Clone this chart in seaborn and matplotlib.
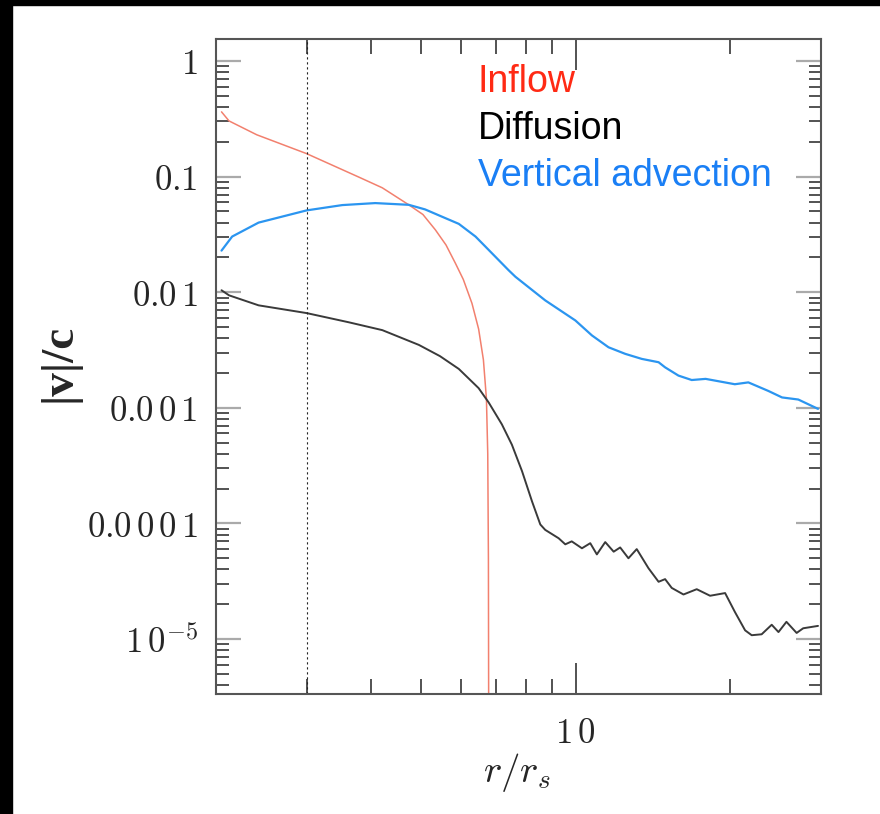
import numpy as np
import pandas as pd
import matplotlib
matplotlib.use("Agg")
import matplotlib.pyplot as plt
import seaborn as sns
from matplotlib.ticker import FixedLocator, FixedFormatter, LogLocator, NullFormatter
from matplotlib.patches import Rectangle

# ---------------- data ----------------
inflow_r = [2.05, 2.12, 2.4, 3.0, 3.79, 4.21, 4.74, 5.05, 5.34, 5.6, 5.84, 6.05, 6.29,
            6.48, 6.62, 6.71, 6.75, 6.77, 6.78]
inflow_v = [0.363, 0.303, 0.23, 0.158, 0.099, 0.080, 0.057, 0.047, 0.0346, 0.0256,
            0.0178, 0.0129, 0.0080, 0.0048, 0.0026, 0.0012, 4e-4, 5e-5, 1e-6]

adv_r = [2.05, 2.15, 2.42, 3.0, 3.52, 4.08, 4.74, 5.1, 5.50, 5.93, 6.39, 6.68, 7.41,
         7.64, 8.73, 9.99, 10.76, 11.59, 12.49, 13.45, 14.5, 14.93, 15.85, 16.82,
         17.9, 18.67, 20.4, 21.67, 23.7, 25.2, 27.1, 29.6]
adv_v = [0.0229, 0.0303, 0.040, 0.051, 0.0567, 0.059, 0.057, 0.052, 0.045, 0.039,
         0.0303, 0.0248, 0.0155, 0.0136, 0.0085, 0.0057, 0.00423, 0.00334, 0.00293,
         0.00265, 0.00248, 0.00224, 0.0019, 0.00174, 0.00178, 0.00172, 0.0016,
         0.00166, 0.0014, 0.00123, 0.00118, 0.00098]

diff_r = [2.05, 2.12, 2.42, 3.0, 3.62, 4.21, 4.96, 5.45, 5.93, 6.48, 6.78, 7.19, 7.52,
          7.87, 8.23, 8.54, 8.73, 9.27, 9.55, 9.83, 10.29, 10.68, 11.0, 11.42, 11.86,
          12.21, 12.67, 13.15, 13.86, 14.5, 14.93, 15.38, 16.21, 17.2, 18.26, 19.53,
          20.4, 21.36, 22.0, 23.0, 24.06, 24.8, 25.7, 26.9, 27.7, 29.6]
diff_v = [0.0104, 0.0094, 0.0077, 0.0066, 0.0055, 0.0047, 0.0035, 0.0028, 0.00217,
          0.00148, 0.00111, 0.00072, 0.00048, 0.000283, 0.000155, 9.8e-5, 8.8e-5,
          7.45e-5, 6.6e-5, 7.0e-5, 6.1e-5, 6.75e-5, 5.4e-5, 6.9e-5, 5.7e-5, 6.2e-5,
          5.0e-5, 6.0e-5, 4.1e-5, 3.13e-5, 3.3e-5, 2.77e-5, 2.43e-5, 2.7e-5, 2.37e-5,
          2.5e-5, 1.72e-5, 1.19e-5, 1.08e-5, 1.1e-5, 1.33e-5, 1.15e-5, 1.41e-5,
          1.13e-5, 1.24e-5, 1.3e-5]

series_names = ["Inflow", "Diffusion", "Vertical advection"]
series_colors = ["#f2806e", "#3a3a3a", "#2b95f0"]
label_colors = ["#ff2a14", "#000000", "#1a7ff5"]

y_ticks = [1e-5, 1e-4, 1e-3, 1e-2, 1e-1, 1]
y_tick_labels = [r"$1\,0^{-5}$", r"$0.0\,0\,0\,1$", r"$0.0\,0\,1$",
                 r"$0.0\,1$", r"$0.1$", r"$1$"]
x_ticks = [10]
x_tick_labels = [r"$1\,0$"]
x_minor = [3, 4, 5, 6, 7, 8, 9, 20]
marker_r = 3.0

# ---------------- style ----------------
sns.set_style("white")
plt.rcParams["mathtext.fontset"] = "cm"
plt.rcParams["font.family"] = ["DejaVu Sans"]

fig = plt.figure(figsize=(8.8, 8.14), dpi=100)
fig.patch.set_facecolor("white")
ax = fig.add_axes([216 / 880, 1 - 694 / 814, (821 - 216) / 880, (694 - 39) / 814])

df_in = pd.DataFrame({"r": inflow_r, "v": inflow_v})
df_df = pd.DataFrame({"r": diff_r, "v": diff_v})
df_ad = pd.DataFrame({"r": adv_r, "v": adv_v})

sns.lineplot(data=df_in, x="r", y="v", ax=ax, color=series_colors[0], lw=1.1,
             estimator=None, sort=False)
sns.lineplot(data=df_df, x="r", y="v", ax=ax, color=series_colors[1], lw=1.4,
             estimator=None, sort=False)
sns.lineplot(data=df_ad, x="r", y="v", ax=ax, color=series_colors[2], lw=1.6,
             estimator=None, sort=False)

ax.axvline(marker_r, color="#222222", lw=0.8, ls=(0, (2, 2.5)))

ax.set_xscale("log")
ax.set_yscale("log")
ax.set_xlim(2.0, 30.0)
ax.set_ylim(10 ** -5.475, 10 ** 0.19)

ax.xaxis.set_major_locator(FixedLocator(x_ticks))
ax.xaxis.set_major_formatter(FixedFormatter(x_tick_labels))
ax.xaxis.set_minor_locator(FixedLocator(x_minor))
ax.xaxis.set_minor_formatter(NullFormatter())
ax.yaxis.set_major_locator(FixedLocator(y_ticks))
ax.yaxis.set_major_formatter(FixedFormatter(y_tick_labels))
ax.yaxis.set_minor_locator(LogLocator(base=10, subs=np.arange(2, 10), numticks=20))
ax.yaxis.set_minor_formatter(NullFormatter())

ax.tick_params(which="both", direction="in", top=True, right=True, bottom=True,
               left=True, color="#444444", width=1.3, labelsize=25)
ax.tick_params(axis="x", which="major", length=22, pad=16)
ax.tick_params(axis="x", which="minor", length=11)
ax.tick_params(axis="y", which="major", length=18, color="#aaaaaa", width=1.6, pad=13)
ax.tick_params(axis="y", which="minor", length=9)

for sp in ax.spines.values():
    sp.set_color("#555555")
    sp.set_linewidth(1.5)

ax.set_xlabel("")
ax.set_ylabel("")

# axis labels
fig.text(60 / 880, 1 - 363 / 814, "|v|/c", rotation=90, ha="center", va="center",
         fontsize=34, fontweight="bold", family="Liberation Serif")
fig.text(517 / 880, 1 - 772 / 814, r"$r/r_s$", ha="center", va="center", fontsize=28)

# legend text
leg_y = [0.919, 0.847, 0.776]
for name, col, yy in zip(series_names, label_colors, leg_y):
    ax.text(0.433, yy, name, transform=ax.transAxes, color=col, fontsize=27,
            family="Liberation Sans", ha="left", va="baseline")

# black frame strips
fig.patches.append(Rectangle((0, 0), 12 / 880, 1, transform=fig.transFigure,
                             color="black", zorder=10))
fig.patches.append(Rectangle((0, 1 - 5 / 814), 1, 5 / 814, transform=fig.transFigure,
                             color="black", zorder=10))

fig.savefig("out.png", dpi=100, facecolor="white")
